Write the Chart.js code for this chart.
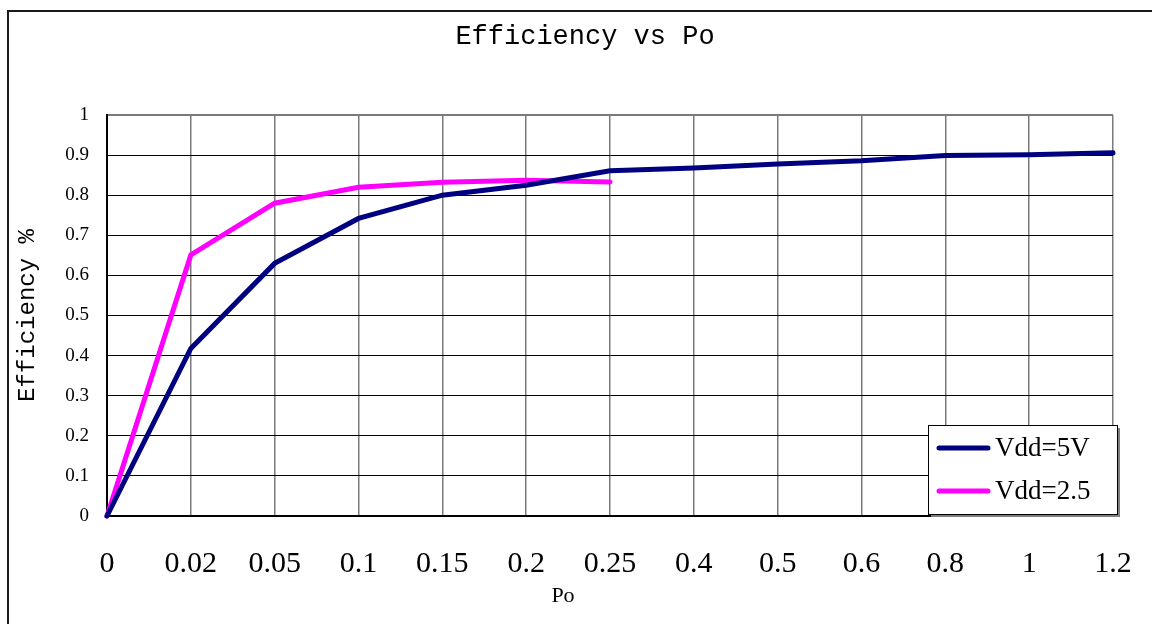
<!DOCTYPE html>
<html>
<head>
<meta charset="utf-8">
<script src="https://cdn.jsdelivr.net/npm/chart.js@4.4.1/dist/chart.umd.min.js"></script>
<style>
    html, body { margin: 0; padding: 0; background: #fff; overflow: hidden; }
    #wrap { position: relative; width: 1152px; height: 624px; }
    #frame {
        position: absolute; left: 7px; top: 10px; width: 1200px; height: 700px;
        border-top: 2px solid #1a1a1a; border-left: 2px solid #1a1a1a;
        pointer-events: none;
    }
    canvas { position: absolute; left: 0; top: 0; }
</style>
</head>
<body>
<div id="wrap">
    <canvas id="chart" width="1152" height="624"></canvas>
    <div id="frame"></div>
</div>
<script>
    'use strict';

    // Po categories (x axis)
    var poLabels = ['0', '0.02', '0.05', '0.1', '0.15', '0.2', '0.25', '0.4', '0.5', '0.6', '0.8', '1', '1.2'];

    // efficiency
    var effVdd5  = [0, 0.418, 0.63, 0.742, 0.8, 0.825, 0.861, 0.868, 0.878, 0.886, 0.899, 0.901, 0.906];
    var effVdd25 = [0, 0.651, 0.78, 0.82, 0.832, 0.837, 0.833];

    var seriesNames = ['Vdd=5V', 'Vdd=2.5'];
    var seriesColors = ['#000080', '#ff00ff'];

    var chartTitle = 'Efficiency vs Po';
    var xTitle = 'Po';
    var yTitle = 'Efficiency %';

    // titles + legend box drawn on top of the chart
    var decorations = {
        id: 'decorations',
        afterDraw: function (chart) {
            var ctx = chart.ctx;

            ctx.save();
            ctx.fillStyle = '#000';
            ctx.textAlign = 'center';
            ctx.textBaseline = 'middle';
            ctx.font = '27px "Liberation Mono"';
            ctx.fillText(chartTitle, 585, 37);
            ctx.font = '22px "Liberation Serif"';
            ctx.fillText(xTitle, 563, 596);

            // legend
            var lx = 928, ly = 425, lw = 189, lh = 89;
            ctx.fillStyle = '#7f7f7f';
            ctx.fillRect(lx + 3, ly + 3, lw, lh);
            ctx.fillStyle = '#fff';
            ctx.fillRect(lx, ly, lw, lh);
            ctx.strokeStyle = '#000';
            ctx.lineWidth = 1;
            ctx.strokeRect(lx + 0.5, ly + 0.5, lw, lh);

            ctx.textAlign = 'left';
            ctx.font = '27px "Liberation Serif"';
            chart.data.datasets.forEach(function (ds, i) {
                var y = ly + 23 + i * 43;
                ctx.strokeStyle = ds.borderColor;
                ctx.lineWidth = 5;
                ctx.lineCap = 'round';
                ctx.beginPath();
                ctx.moveTo(lx + 11, y);
                ctx.lineTo(lx + 60, y);
                ctx.stroke();
                ctx.fillStyle = '#000';
                ctx.fillText(ds.label, lx + 67, y + 1);
            });
            ctx.restore();
        }
    };

    new Chart(document.getElementById('chart'), { //eslint-disable-line
        'type'    : 'line',
        'data'    : {
            'labels'   : poLabels,
            'datasets' : [
                {
                    'label'           : seriesNames[0],
                    'data'            : effVdd5,
                    'borderColor'     : seriesColors[0],
                    'backgroundColor' : seriesColors[0],
                    'borderWidth'     : 5,
                    'borderCapStyle'  : 'round',
                    'pointRadius'     : 0,
                    'tension'         : 0
                },
                {
                    'label'           : seriesNames[1],
                    'data'            : effVdd25,
                    'borderColor'     : seriesColors[1],
                    'backgroundColor' : seriesColors[1],
                    'borderWidth'     : 5,
                    'borderCapStyle'  : 'round',
                    'pointRadius'     : 0,
                    'tension'         : 0
                }
            ]
        },
        'options' : {
            'responsive' : false,
            'animation'  : false,
            'clip'       : false,
            'layout'     : { 'padding': { 'top': 115, 'left': 16, 'right': 39, 'bottom': 0 } },
            'plugins'    : {
                'legend'  : { 'display': false },
                'title'   : { 'display': false },
                'tooltip' : { 'enabled': false }
            },
            'scales' : {
                'x' : {
                    'offset' : false,
                    'grid'   : { 'color': '#7a7a7a', 'lineWidth': 1.5, 'drawTicks': false },
                    'border' : { 'color': '#000', 'width': 2 },
                    'ticks'  : {
                        'color'       : '#000',
                        'padding'     : 30,
                        'maxRotation' : 0,
                        'autoSkip'    : false,
                        'font'        : { 'family': 'Liberation Serif', 'size': 30 }
                    },
                    'afterFit' : function (scale) {
                        scale.height = 108;
                        scale.paddingLeft = 0;
                        scale.paddingRight = 0;
                    }
                },
                'y' : {
                    'min'    : 0,
                    'max'    : 1,
                    'grid'   : {
                        'color'     : function (c) { return c.tick && c.tick.value === 1 ? '#7a7a7a' : '#000'; },
                        'lineWidth' : function (c) { return c.tick && c.tick.value === 1 ? 2 : 1; },
                        'drawTicks' : false
                    },
                    'border' : { 'color': '#000', 'width': 2 },
                    'ticks'  : {
                        'color'    : '#000',
                        'stepSize' : 0.1,
                        'padding'  : 18,
                        'font'     : { 'family': 'Liberation Serif', 'size': 19 },
                        'callback' : function (value) { return String(+value.toFixed(1)); }
                    },
                    'title'  : {
                        'display' : true,
                        'text'    : yTitle,
                        'color'   : '#000',
                        'padding' : 0,
                        'font'    : { 'family': 'Liberation Mono', 'size': 24, 'lineHeight': 1 }
                    },
                    'afterFit' : function (scale) { scale.width = 91; }
                }
            }
        },
        'plugins' : [decorations]
    });
</script>
</body>
</html>
